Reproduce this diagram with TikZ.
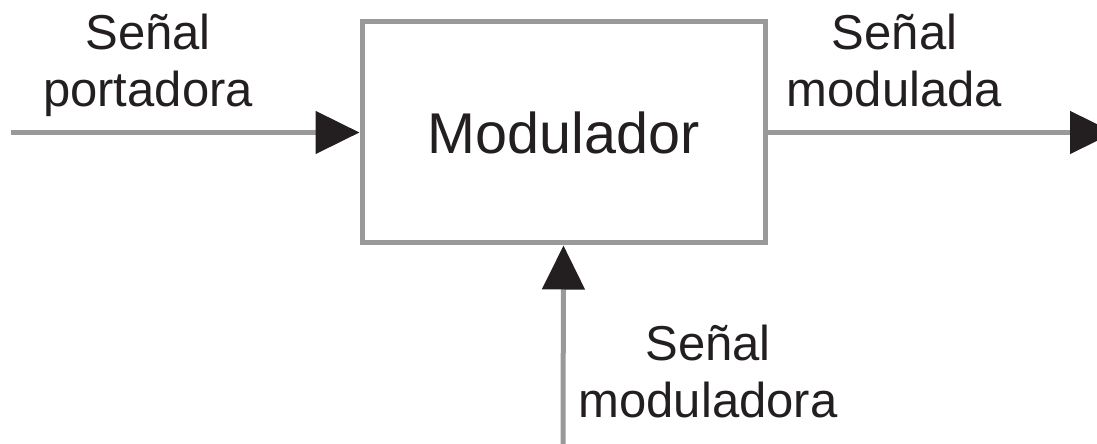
\documentclass[tikz,border=0pt]{standalone}
\usepackage{fontspec}
\setmainfont{Liberation Sans}
\usetikzlibrary{arrows.meta}
\definecolor{ink}{HTML}{231F20}
\definecolor{wire}{HTML}{999999}

\begin{document}
\begin{tikzpicture}[x=1pt, y=1pt, line width=5pt, wire,
		sig/.style={-{Triangle[length=44pt, width=42pt, color=ink]}},
		block/.style={draw=wire, rectangle, minimum width=403pt, minimum height=221pt, inner sep=0pt, text=ink, font=\fontsize{57.5}{60}\selectfont},
		lbl/.style={align=center, anchor=base, inner sep=0pt, text=ink, font=\fontsize{49}{57}\selectfont}]
		\useasboundingbox (0, 0) rectangle (1097, 444);

		\node[block] (mod) at (563.5, 311.5) {Modulador};
		\coordinate (in) at (11, 311.5);
		\coordinate (out) at (1114, 311.5);
		\coordinate (mi) at (563, -10);

		\node[lbl] (carrier) at (148, 337) {Señal\\portadora};
		\node[lbl] (modulated) at (894.5, 337) {Señal\\modulada};
		\node[lbl] (message) at (708, 26) {Señal\\moduladora};

		\path (in) edge[sig] (mod)
			(mod) edge[sig] (out)
			(mi) edge[sig] (mod.south);
	\end{tikzpicture}
\end{document}
